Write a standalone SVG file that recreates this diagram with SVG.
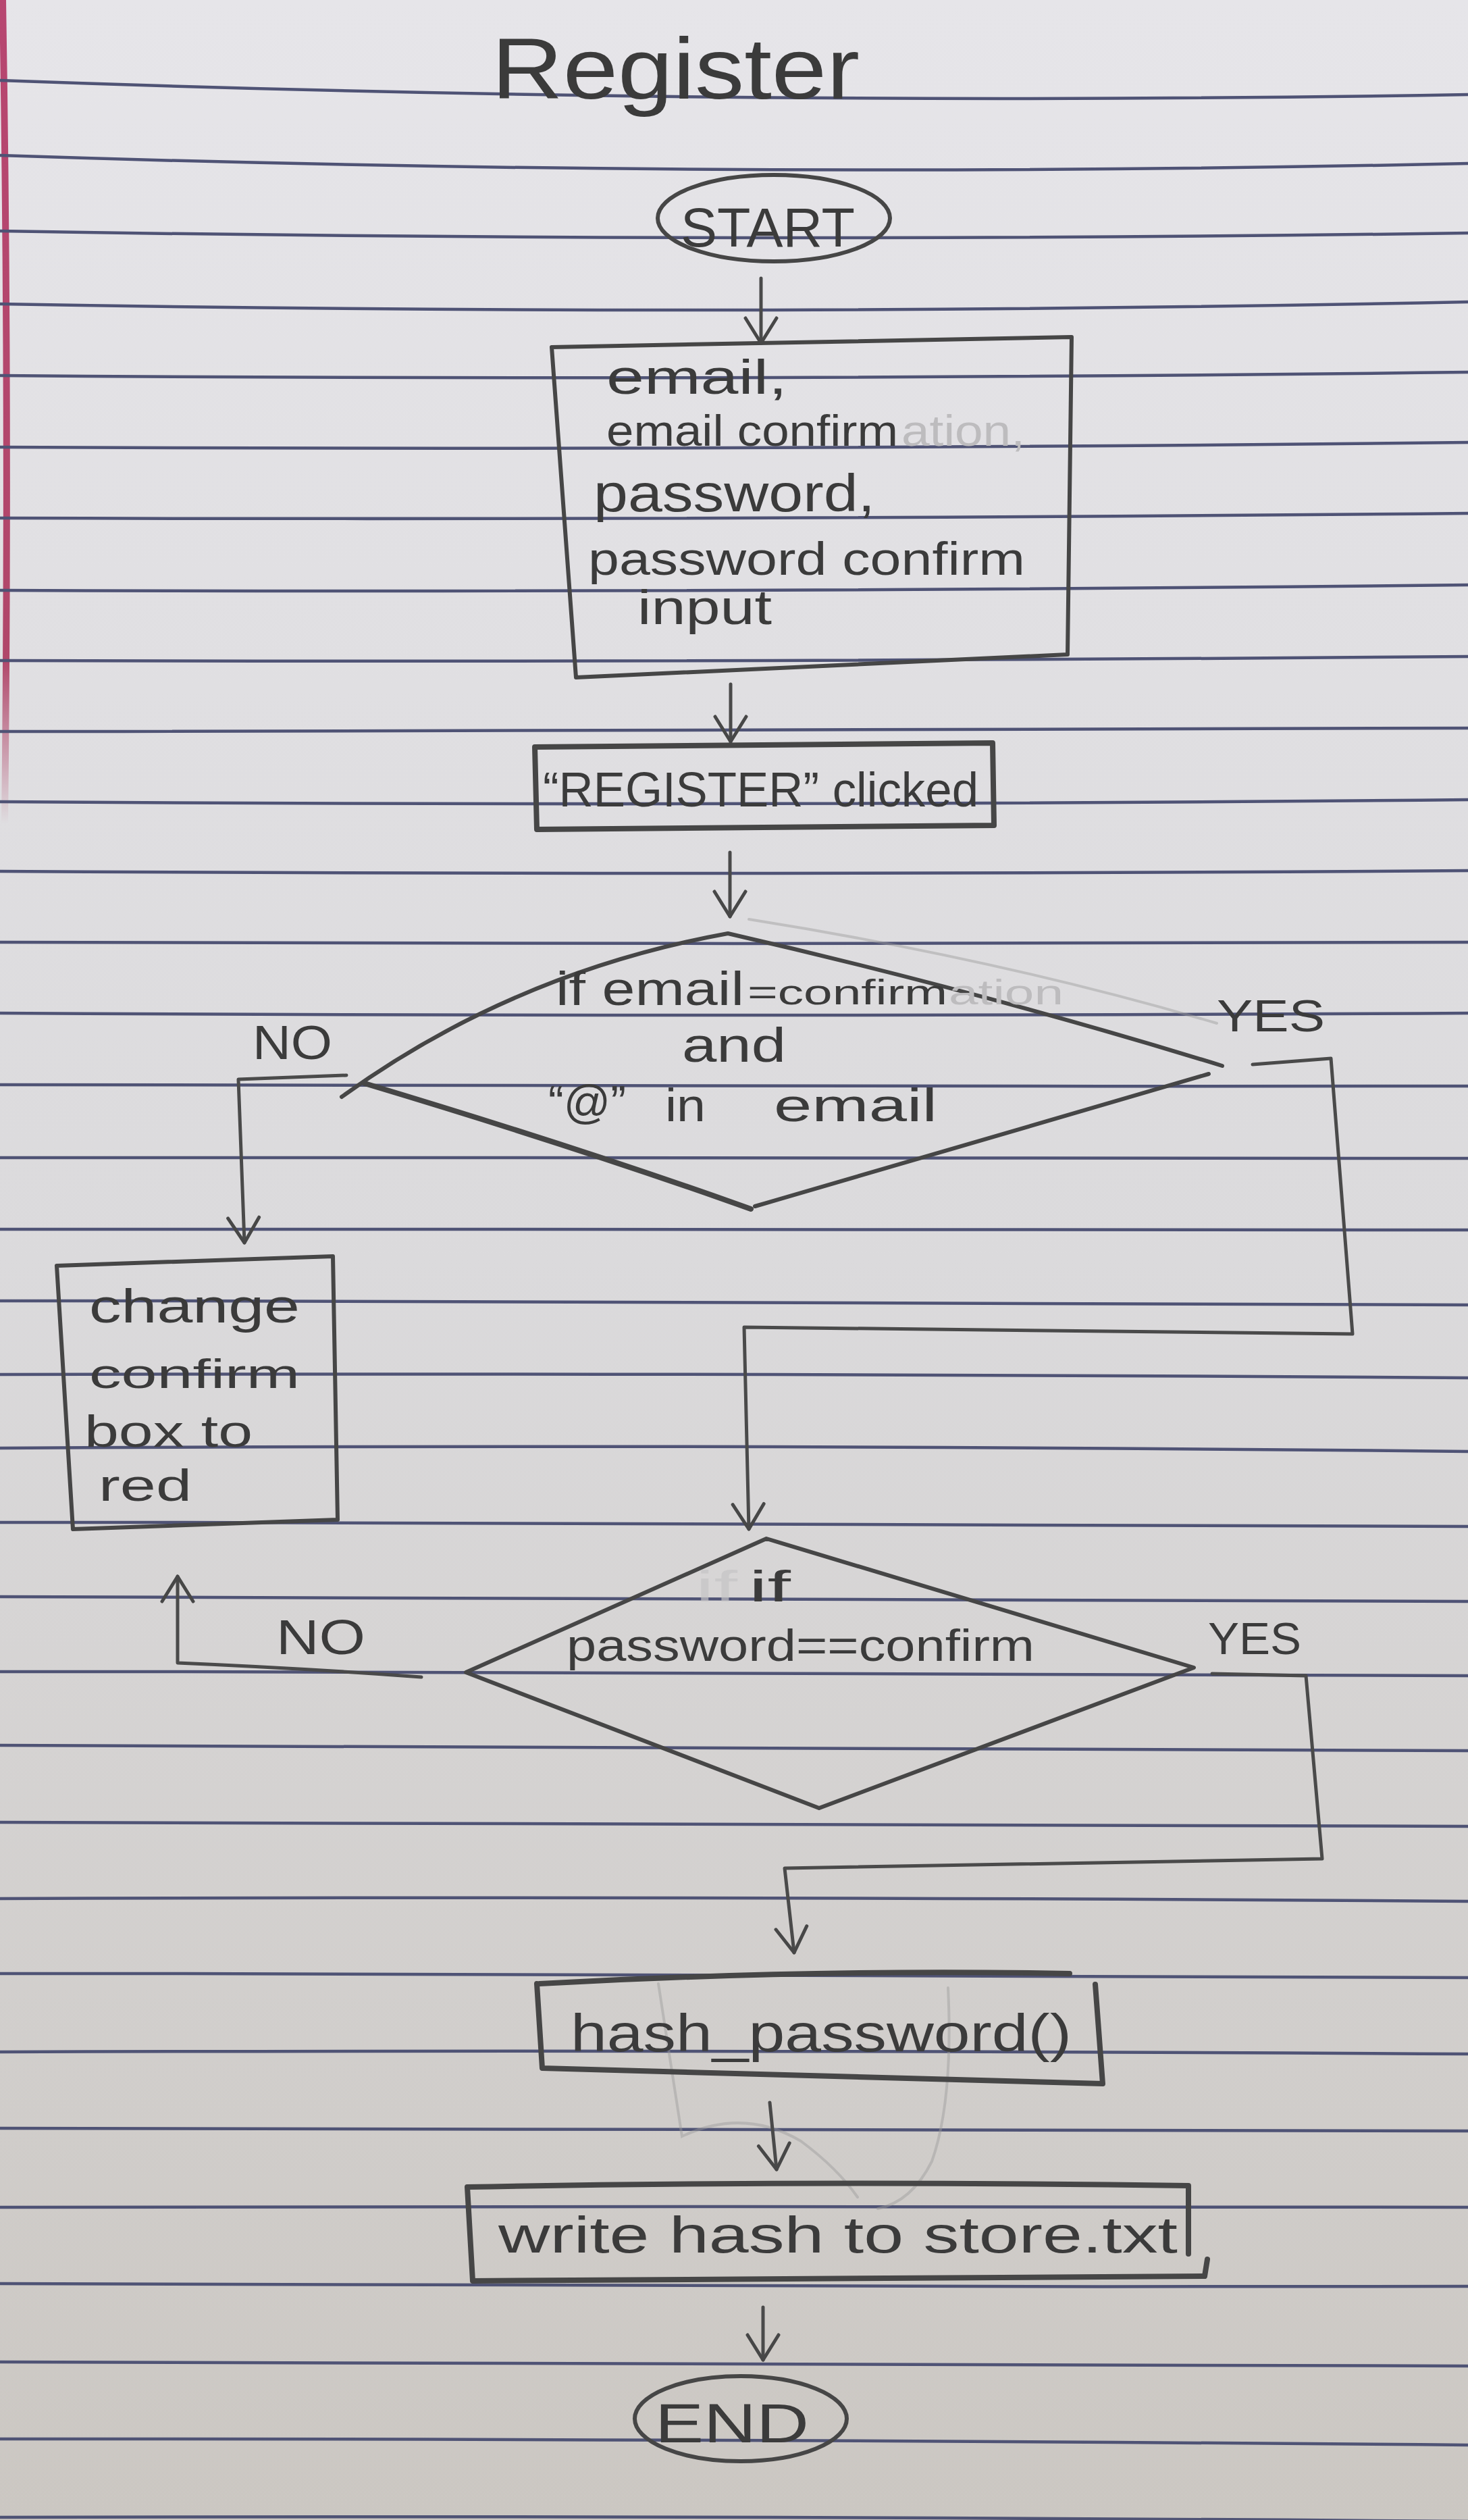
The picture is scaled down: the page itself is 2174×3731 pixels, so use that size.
<svg xmlns="http://www.w3.org/2000/svg" width="2174" height="3731" viewBox="0 0 2174 3731">
<defs>
<linearGradient id="paper" x1="0" y1="0" x2="0" y2="1">
<stop offset="0" stop-color="#e6e5e9"/>
<stop offset="0.5" stop-color="#dbdadc"/>
<stop offset="1" stop-color="#cbc7c2"/>
</linearGradient>
<linearGradient id="margin" gradientUnits="userSpaceOnUse" x1="0" y1="0" x2="0" y2="1220">
<stop offset="0" stop-color="#b23563" stop-opacity="0.9"/>
<stop offset="0.8" stop-color="#a82c55" stop-opacity="0.85"/>
<stop offset="1" stop-color="#a82c55" stop-opacity="0"/>
</linearGradient>
<marker id="arrow" viewBox="0 0 44 52" refX="40" refY="26" markerWidth="44" markerHeight="52" markerUnits="userSpaceOnUse" orient="auto">
<path d="M3 3 L40 26 L3 49" fill="none" stroke="#474747" stroke-width="5" stroke-linecap="round" stroke-linejoin="round"/>
</marker>
<style>
.rule{fill:none;stroke:#4f5375;stroke-width:4.5}
.pen{fill:none;stroke:#464646;stroke-width:6;stroke-linecap:round;stroke-linejoin:round}
.thick{stroke-width:8}
.conn{fill:none;stroke:#4a4a4a;stroke-width:5;stroke-linecap:round;stroke-linejoin:round}
.ghost{fill:none;stroke:#9c9c9c;stroke-width:4;stroke-opacity:0.45;stroke-linecap:round}
.hw{font-family:"Liberation Sans",Arial,sans-serif;fill:#3b3b3b}
.faint{font-family:"Liberation Sans",Arial,sans-serif;fill:#bdbcbe}
.fainter{font-family:"Liberation Sans",Arial,sans-serif;fill:#c4c3c5;fill-opacity:0.7}
</style>
</defs>

<g id="paper-bg">
<rect x="0" y="0" width="2174" height="3731" fill="url(#paper)"/>
<path d="M4 0 Q14 600 7 1220" fill="none" stroke="url(#margin)" stroke-width="10"/>
<g class="rule">
<path d="M0 119 Q1087 158.5 2174 140"/>
<path d="M0 230 Q1087 266 2174 242"/>
<path d="M0 342 Q1087 360.5 2174 345"/>
<path d="M0 450 Q1087 469.5 2174 447"/>
<path d="M0 556 Q1087 564.5 2174 551"/>
<path d="M0 662 Q1087 667.5 2174 655"/>
<path d="M0 767 Q1087 770.5 2174 760"/>
<path d="M0 874 Q1087 878 2174 866"/>
<path d="M0 978 Q1087 981 2174 972"/>
<path d="M0 1083 Q1087 1083.5 2174 1078"/>
<path d="M0 1187 Q1087 1194.5 2174 1184"/>
<path d="M0 1290 Q1087 1296.5 2174 1289"/>
<path d="M0 1395 Q1087 1399 2174 1395"/>
<path d="M0 1500 Q1087 1506 2174 1500"/>
<path d="M0 1606 Q1087 1609 2174 1608"/>
<path d="M0 1714 Q1087 1713.5 2174 1715"/>
<path d="M0 1820 Q1087 1819.5 2174 1821"/>
<path d="M0 1926 Q1087 1925 2174 1932"/>
<path d="M0 2035 Q1087 2032.5 2174 2040"/>
<path d="M0 2144 Q1087 2137.5 2174 2149"/>
<path d="M0 2254 Q1087 2253 2174 2260"/>
<path d="M0 2364 Q1087 2364.5 2174 2371"/>
<path d="M0 2475 Q1087 2474 2174 2481"/>
<path d="M0 2584 Q1087 2588 2174 2592"/>
<path d="M0 2698 Q1087 2699 2174 2704"/>
<path d="M0 2811 Q1087 2807 2174 2815"/>
<path d="M0 2922 Q1087 2921 2174 2928"/>
<path d="M0 3038 Q1087 3034.5 2174 3041"/>
<path d="M0 3151 Q1087 3151 2174 3155"/>
<path d="M0 3268 Q1087 3266 2174 3268"/>
<path d="M0 3381 Q1087 3387 2174 3385"/>
<path d="M0 3497 Q1087 3498 2174 3503"/>
<path d="M0 3611 Q1087 3610.5 2174 3620"/>
<path d="M0 3727 Q1087 3724 2174 3733"/>
</g>
</g>

<g id="title">
<text class="hw" x="728" y="146" font-size="128" textLength="545" lengthAdjust="spacingAndGlyphs">Register</text>
</g>

<g id="start">
<ellipse class="pen" cx="1146" cy="323" rx="172" ry="64" stroke-width="5"/>
<text class="hw" x="1008" y="365" font-size="82" textLength="258" lengthAdjust="spacingAndGlyphs">START</text>
</g>

<g id="input">
<path class="pen" d="M817 514 L1587 499 L1581 969 L853 1003 Z"/>
<text class="hw" x="898" y="583" font-size="72" textLength="268" lengthAdjust="spacingAndGlyphs">email,</text>
<text class="hw" x="898" y="660" font-size="64" textLength="432" lengthAdjust="spacingAndGlyphs">email confirm</text>
<text class="faint" x="1335" y="660" font-size="64" textLength="183" lengthAdjust="spacingAndGlyphs">ation,</text>
<text class="hw" x="879" y="757" font-size="78" textLength="417" lengthAdjust="spacingAndGlyphs">password,</text>
<text class="hw" x="871" y="851" font-size="68" textLength="647" lengthAdjust="spacingAndGlyphs">password confirm</text>
<text class="hw" x="944" y="924" font-size="72" textLength="199" lengthAdjust="spacingAndGlyphs">input</text>
</g>

<g id="register-clicked">
<path class="pen thick" d="M792 1106 L1470 1100 L1472 1222 L795 1228 Z"/>
<text class="hw" x="804" y="1194" font-size="72" textLength="645" lengthAdjust="spacingAndGlyphs">“REGISTER” clicked</text>
</g>

<g id="email-check">
<path class="ghost" d="M1109 1361 Q1480 1420 1802 1515"/>
<path class="pen" d="M506 1624 Q760 1440 1078 1382 Q1460 1470 1810 1578"/>
<path class="pen" d="M1790 1590 L1118 1786"/>
<path class="pen thick" d="M540 1604 Q860 1700 1112 1790"/>
<text class="hw" x="823" y="1488" font-size="70" textLength="279" lengthAdjust="spacingAndGlyphs">if email</text>
<text class="hw" x="1107" y="1487" font-size="52" textLength="296" lengthAdjust="spacingAndGlyphs">=confirm</text>
<text class="faint" x="1405" y="1487" font-size="52" textLength="170" lengthAdjust="spacingAndGlyphs">ation</text>
<text class="hw" x="1010" y="1572" font-size="72" textLength="154" lengthAdjust="spacingAndGlyphs">and</text>
<text class="hw" x="812" y="1655" font-size="68" textLength="115" lengthAdjust="spacingAndGlyphs">“@”</text>
<text class="hw" x="985" y="1660" font-size="68" textLength="60" lengthAdjust="spacingAndGlyphs">in</text>
<text class="hw" x="1146" y="1660" font-size="68" textLength="242" lengthAdjust="spacingAndGlyphs">email</text>
</g>

<g id="change-box">
<path class="pen" d="M84 1874 L493 1860 L500 2250 L108 2264 Z"/>
<text class="hw" x="132" y="1958" font-size="70" textLength="312" lengthAdjust="spacingAndGlyphs">change</text>
<text class="hw" x="132" y="2055" font-size="62" textLength="312" lengthAdjust="spacingAndGlyphs">confirm</text>
<text class="hw" x="125" y="2142" font-size="66" textLength="249" lengthAdjust="spacingAndGlyphs">box to</text>
<text class="hw" x="146" y="2222" font-size="66" textLength="138" lengthAdjust="spacingAndGlyphs">red</text>
</g>

<g id="password-check">
<path class="pen" d="M1135 2278 L1768 2469 L1213 2677 L690 2476 Z"/>
<text class="fainter" x="1030" y="2371" font-size="64" textLength="62" lengthAdjust="spacingAndGlyphs">if</text>
<text class="hw" x="1109" y="2371" font-size="64" textLength="62" lengthAdjust="spacingAndGlyphs">if</text>
<text class="hw" x="839" y="2459" font-size="66" textLength="693" lengthAdjust="spacingAndGlyphs">password==confirm</text>
</g>

<g id="hash-password">
<path class="ghost" d="M975 2937 L1010 3163 Q1101 3120 1186 3170 Q1240 3210 1270 3253"/>
<path class="ghost" d="M1404 2943 Q1412 3110 1380 3200 Q1350 3260 1300 3270"/>
<path class="pen thick" d="M799 2937 Q1200 2915 1584 2922 M1622 2938 L1633 3085 L803 3062 L795 2937"/>
<text class="hw" x="845" y="3037" font-size="78" textLength="742" lengthAdjust="spacingAndGlyphs">hash_password()</text>
</g>

<g id="write-hash">
<path class="pen thick" d="M692 3238 Q1200 3228 1760 3236 L1760 3337 M1788 3345 L1784 3370 L700 3377 L692 3238"/>
<text class="hw" x="738" y="3335" font-size="76" textLength="1006" lengthAdjust="spacingAndGlyphs">write hash to store.txt</text>
</g>

<g id="end">
<ellipse class="pen" cx="1097" cy="3581" rx="157" ry="63" stroke-width="5"/>
<text class="hw" x="970" y="3616" font-size="82" textLength="228" lengthAdjust="spacingAndGlyphs">END</text>
</g>

<g id="connectors">
<path class="conn" d="M1127 412 L1127 508" marker-end="url(#arrow)"/>
<path class="conn" d="M1082 1013 L1082 1098" marker-end="url(#arrow)"/>
<path class="conn" d="M1081 1262 L1081 1357" marker-end="url(#arrow)"/>
<path class="conn" d="M513 1592 L353 1598 L362 1840" marker-end="url(#arrow)"/>
<path class="conn" d="M1855 1576 L1971 1567 L2003 1975 L1102 1965 L1109 2264" marker-end="url(#arrow)"/>
<path class="conn" d="M624 2483 Q450 2470 263 2462 L263 2334" marker-end="url(#arrow)"/>
<path class="conn" d="M1795 2478 L1934 2481 L1958 2752 L1162 2766 L1176 2891" marker-end="url(#arrow)"/>
<path class="conn" d="M1140 3113 L1150 3212" marker-end="url(#arrow)"/>
<path class="conn" d="M1130 3416 L1130 3494" marker-end="url(#arrow)"/>
<text class="hw" x="374" y="1568" font-size="70" textLength="118" lengthAdjust="spacingAndGlyphs">NO</text>
<text class="hw" x="1802" y="1527" font-size="66" textLength="160" lengthAdjust="spacingAndGlyphs">YES</text>
<text class="hw" x="409" y="2449" font-size="72" textLength="132" lengthAdjust="spacingAndGlyphs">NO</text>
<text class="hw" x="1789" y="2449" font-size="66" textLength="138" lengthAdjust="spacingAndGlyphs">YES</text>
</g>
</svg>
